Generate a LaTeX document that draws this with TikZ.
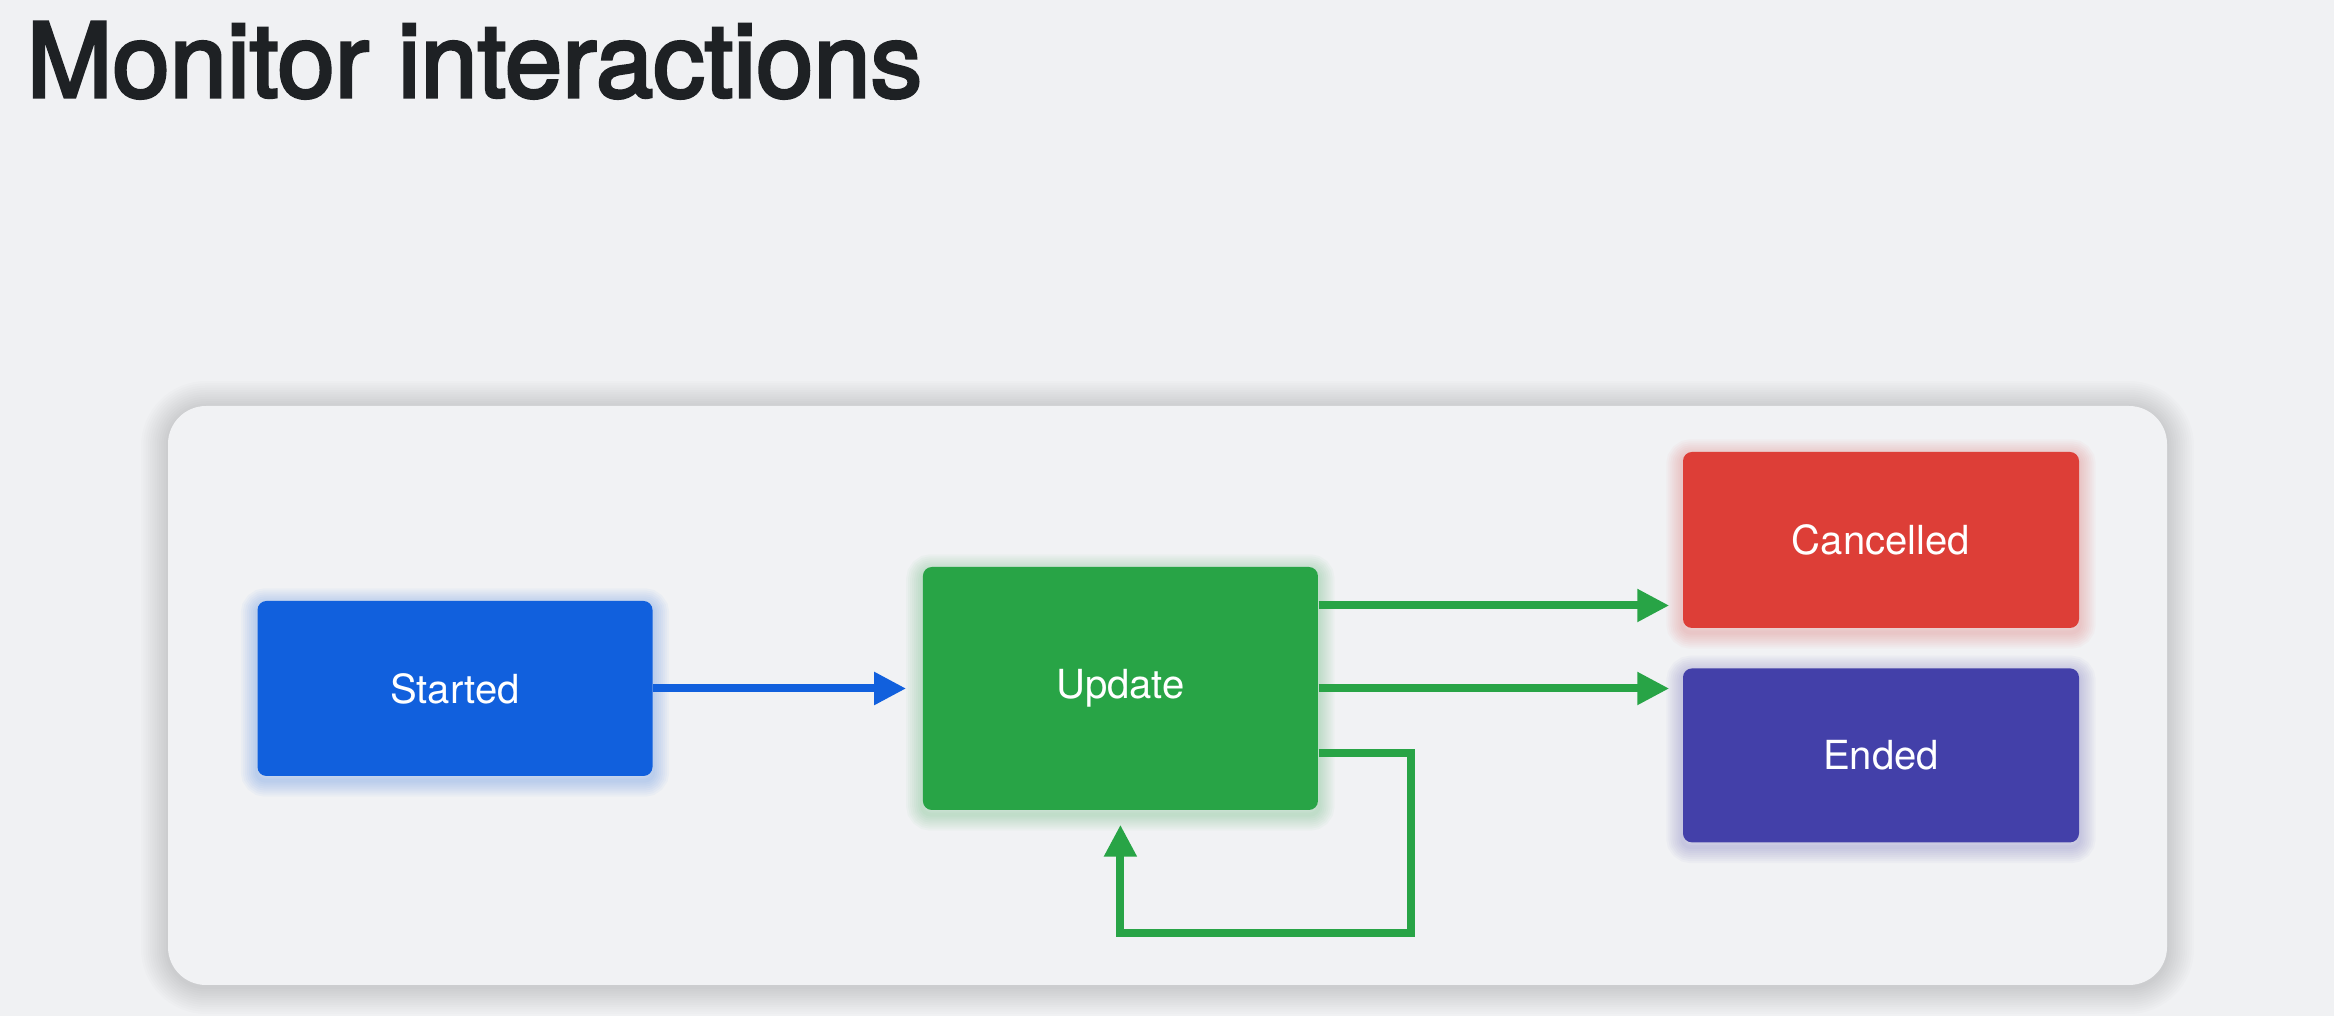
\documentclass[tikz,border=0pt]{standalone}
\usepackage{fontspec}
\setmainfont{TeX Gyre Heros}
\newfontfamily\titlefont[FakeBold=3]{TeX Gyre Heros}
\usepackage{xcolor}
\usetikzlibrary{arrows.meta,positioning,calc,backgrounds}

\definecolor{pagebg}{HTML}{F0F1F3}
\definecolor{panelbg}{HTML}{F1F2F4}
\definecolor{titlegray}{HTML}{1E2124}
\definecolor{startblue}{HTML}{1160DD}
\definecolor{updgreen}{HTML}{28A446}
\definecolor{cancelred}{HTML}{DD3E37}
\definecolor{endindigo}{HTML}{4340A9}

\tikzset{
  state/.style={rectangle,rounded corners=0.09cm,minimum width=3.95cm,inner sep=0pt,
    text=white,font=\fontsize{11.4}{13}\selectfont,fill=#1},
  flow/.style={draw=#1,line width=0.08cm,-{Triangle[length=0.32cm,width=0.31cm]}},
}

\begin{document}
\begin{tikzpicture}
  \useasboundingbox (0,0) rectangle (23.34,10.16);
  % title
  \node[anchor=base west,inner sep=0pt,text=titlegray,font=\titlefont\fontsize{29.3}{34}\selectfont] (title) at (0.26,9.19) {Monitor interactions};
  % states
  \node[state=startblue,minimum height=1.75cm] (start) at (4.55,3.275) {Started};
  \node[state=updgreen,minimum height=2.43cm,right=2.69cm of start] (upd) {Update};
  \node[state=cancelred,minimum width=3.96cm,minimum height=1.76cm] (cancel) at (18.81,4.76) {Cancelled};
  \node[state=endindigo,minimum width=3.96cm,minimum height=1.74cm,below=0.39cm of cancel] (ended) {Ended};
  % transitions
  \draw[flow=startblue,shorten >=0.16cm] (start.east) -- (upd.west);
  \draw[flow=updgreen,shorten >=0.13cm] ([yshift=0.83cm]upd.east) -- ([yshift=0.83cm]upd.east -| cancel.west);
  \draw[flow=updgreen,shorten >=0.13cm] (upd.east) -- (upd.east -| ended.west);
  \coordinate (loop) at (14.11,0.83);
  \draw[flow=updgreen,shorten >=0.14cm] ([yshift=-0.645cm]upd.east) -| (loop) -| (upd.south);
  % page, panel and soft shadows
  \begin{scope}[on background layer]
    \fill[pagebg] (0,0) rectangle (23.34,10.16);
    \foreach \k in {1,...,12}
      \draw[black,opacity=0.011,line width=\k*0.045cm,rounded corners=0.38cm] (1.68,0.29) rectangle (21.67,6.08);
    \fill[panelbg,rounded corners=0.38cm] (1.68,0.31) rectangle (21.67,6.10);
    \foreach \n/\c in {start/startblue,upd/updgreen,cancel/cancelred,ended/endindigo}{
      \foreach \k in {1,...,8}
        \draw[\c,opacity=0.03,line width=\k*0.04cm,rounded corners=0.09cm]
          ([yshift=-0.04cm]\n.south west) rectangle ([yshift=-0.04cm]\n.north east);
    }
  \end{scope}
\end{tikzpicture}
\end{document}
